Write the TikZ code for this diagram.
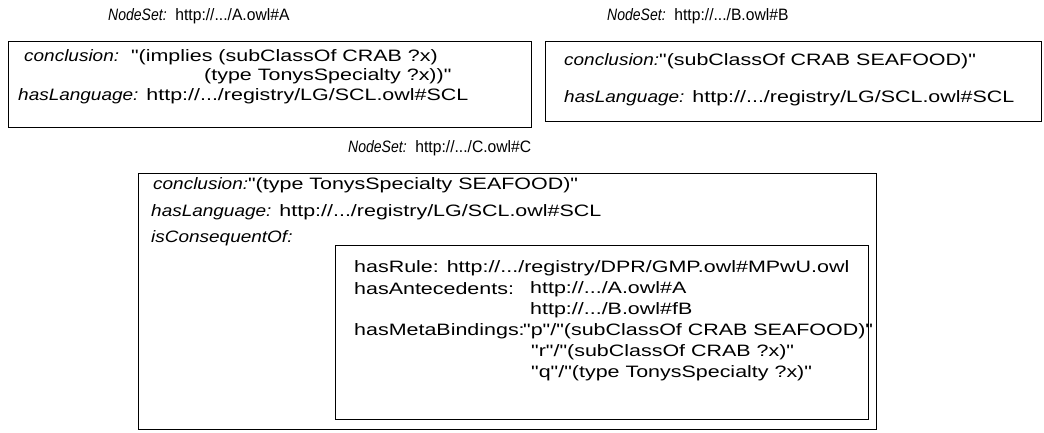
\documentclass[tikz,border=0pt]{standalone}
\usepackage{fontspec}
\setmainfont{Liberation Sans}[Ligatures=TeXOff, FakeStretch=1.3, ItalicFeatures={FakeStretch=1.15}]
\newfontfamily\titlefont{Liberation Sans}[Ligatures=TeXOff, FakeStretch=0.95, ItalicFeatures={FakeStretch=0.85}]
\usetikzlibrary{positioning,calc}

\tikzset{
  nsbox/.style={draw, line width=1pt, anchor=north west, inner sep=0pt},
  lbl/.style={anchor=west, inner sep=0pt},
  nstitle/.style={lbl, font=\titlefont\fontsize{16.5}{19}\selectfont},
}

\begin{document}
\begin{tikzpicture}[x=1pt, y=-1pt, font=\fontsize{16.5}{19}\selectfont]
  \useasboundingbox (0,0) rectangle (1044,432);
  \node[nsbox, minimum width=523pt, minimum height=86pt] (boxA) at (8,41) {};
  \node[nsbox, minimum width=496pt, minimum height=80pt] (boxB) at (545,41) {};
  \node[nsbox, minimum width=738pt, minimum height=256pt] (boxC) at (138,173) {};
  \node[nsbox, minimum width=533pt, minimum height=174pt] (rules) at (335,245) {};

  \node[nstitle] (titleA) at ($(boxA.north west)+(100,-25)$) {\textit{NodeSet:}~~http://.../A.owl\#A};
  \node[nstitle] (titleB) at ($(boxB.north west)+(62,-25)$) {\textit{NodeSet:}~~http://.../B.owl\#B};
  \node[nstitle] (titleC) at ($(boxC.north west)+(210,-25)$) {\textit{NodeSet:}~~http://.../C.owl\#C};

  \node[lbl] (concA) at ($(boxA.north west)+(16,16)$) {\textit{conclusion:}~~"(implies (subClassOf CRAB ?x)};
  \node[lbl] (concA2) at ($(boxA.north west)+(196,35)$) {(type TonysSpecialty ?x))"};
  \node[lbl] (langA) at ($(boxA.north west)+(10,55)$) {\textit{hasLanguage:} http://.../registry/LG/SCL.owl\#SCL};

  \node[lbl] (concB) at ($(boxB.north west)+(19,20)$) {\textit{conclusion:}"(subClassOf CRAB SEAFOOD)"};
  \node[lbl] (langB) at ($(boxB.north west)+(19,57)$) {\textit{hasLanguage:} http://.../registry/LG/SCL.owl\#SCL};

  \node[lbl] (concC) at ($(boxC.north west)+(15,12)$) {\textit{conclusion:}"(type TonysSpecialty SEAFOOD)"};
  \node[lbl] (langC) at ($(boxC.north west)+(13,39)$) {\textit{hasLanguage:} http://.../registry/LG/SCL.owl\#SCL};
  \node[lbl] (conseq) at ($(boxC.north west)+(13,65)$) {\textit{isConsequentOf:}};

  \node[lbl] (rule) at ($(rules.north west)+(19,23)$) {hasRule: http://.../registry/DPR/GMP.owl\#MPwU.owl};
  \node[lbl] (ante) at ($(rule.west)+(0,21)$) {hasAntecedents:};
  \node[lbl] (anteA) at ($(ante.west)+(176,0)$) {http://.../A.owl\#A};
  \node[lbl] (anteB) at ($(anteA.west)+(0,21)$) {http://.../B.owl\#fB};
  \node[lbl] (meta) at ($(ante.west)+(0,42)$) {hasMetaBindings:};
  \node[lbl] (metaP) at ($(meta.west)+(169,0)$) {"p"/"(subClassOf CRAB SEAFOOD)"};
  \node[lbl] (metaR) at ($(metaP.west)+(8,21)$) {"r"/"(subClassOf CRAB ?x)"};
  \node[lbl] (metaQ) at ($(metaR.west)+(0,21)$) {"q"/"(type TonysSpecialty ?x)"};
\end{tikzpicture}
\end{document}
